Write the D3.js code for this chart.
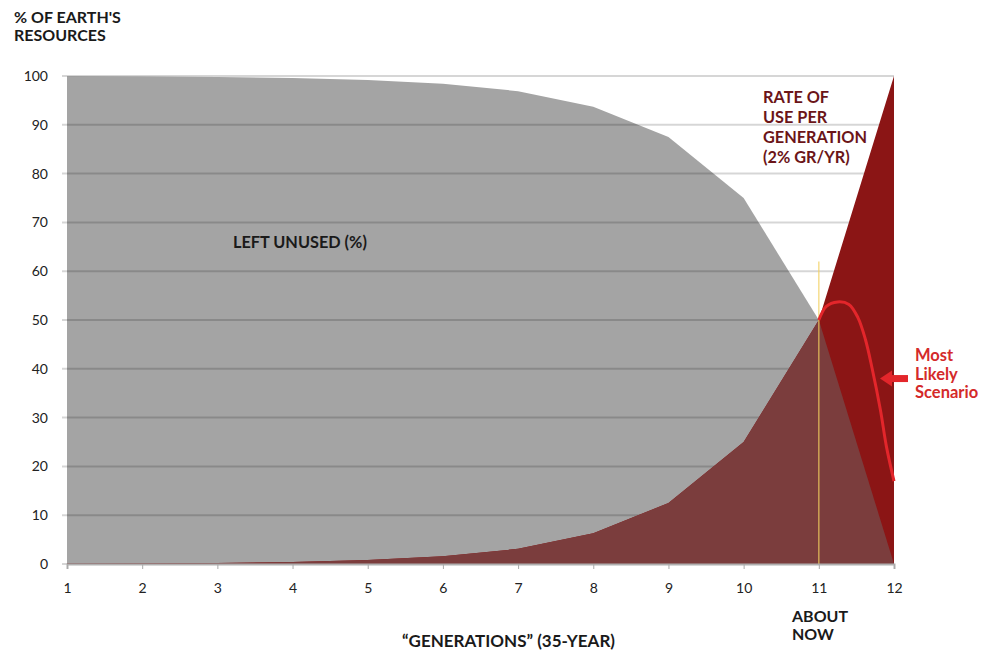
<!DOCTYPE html>
<html>
<head>
<meta charset="utf-8">
<script src="https://cdn.jsdelivr.net/npm/d3@7"></script>
<style>
  body { margin: 0; background: #fff; }
  text { font-family: Lato, "Open Sans", sans-serif; }
</style>
</head>
<body>
<script>
// data
var generations = [1, 2, 3, 4, 5, 6, 7, 8, 9, 10, 11, 12];
var usedPct = [0.05, 0.1, 0.2, 0.4, 0.8, 1.6, 3.1, 6.3, 12.5, 25, 50, 100];
var unusedPct = [99.95, 99.9, 99.8, 99.6, 99.2, 98.4, 96.9, 93.7, 87.5, 75, 50, 0];
// the "most likely" red curve
var likelyGen = [11, 11.1, 11.25, 11.4, 11.52, 11.62, 11.71, 11.82, 11.9, 12];
var likelyPct = [50, 52.8, 53.7, 53.2, 50.5, 46, 40, 31.5, 24, 17];
var yTicks = [0, 10, 20, 30, 40, 50, 60, 70, 80, 90, 100];
var nowGen = 11;
var nowLineTop = 62;

var w = 995;
var h = 654;
// NB: "top" is taken by window.top, so plot edges get their own names
var plotLeft = 67, plotRight = 894, plotTop = 76, plotBottom = 564;

var svg = d3.select("body").append("svg")
    .attr("width", w)
    .attr("height", h);

var x = d3.scaleLinear().domain([1, 12]).range([plotLeft, plotRight]);
var y = d3.scaleLinear().domain([0, 100]).range([plotBottom, plotTop]);

var rows = generations.map(function(g, i) {
    return { g: g, used: usedPct[i], unused: unusedPct[i] };
});

var unusedArea = d3.area()
    .x(function(d) { return x(d.g); })
    .y0(y(0))
    .y1(function(d) { return y(d.unused); });

var usedArea = d3.area()
    .x(function(d) { return x(d.g); })
    .y0(y(0))
    .y1(function(d) { return y(d.used); });

// clip used by unused to get the overlap colour
svg.append("defs").append("clipPath")
    .attr("id", "unusedClip")
    .append("path")
    .attr("d", unusedArea(rows));

// gray "left unused" area
svg.append("path")
    .attr("d", unusedArea(rows))
    .attr("fill", "#a4a4a4");

// gridlines sit over gray, under red
svg.append("g")
    .selectAll("line")
    .data(yTicks)
    .enter()
    .append("line")
    .attr("x1", plotLeft - 5)
    .attr("x2", plotRight)
    .attr("y1", function(d) { return y(d); })
    .attr("y2", function(d) { return y(d); })
    .attr("stroke", "rgba(0,0,0,0.16)")
    .attr("stroke-width", 2);

// red "used" area
svg.append("path")
    .attr("d", usedArea(rows))
    .attr("fill", "#8b1515");

// overlap part (brownish)
svg.append("path")
    .attr("d", usedArea(rows))
    .attr("clip-path", "url(#unusedClip)")
    .attr("fill", "#7b3d3d");

// "about now" line
svg.append("line")
    .attr("x1", x(nowGen))
    .attr("x2", x(nowGen))
    .attr("y1", y(0))
    .attr("y2", y(nowLineTop))
    .attr("stroke", "#f2d060")
    .attr("stroke-opacity", 0.7)
    .attr("stroke-width", 1.5);

// most likely scenario curve
var likelyLine = d3.line()
    .x(function(d, i) { return x(likelyGen[i]); })
    .y(function(d) { return y(d); })
    .curve(d3.curveCatmullRom);

svg.append("path")
    .attr("d", likelyLine(likelyPct))
    .attr("fill", "none")
    .attr("stroke", "#e3262b")
    .attr("stroke-width", 3);

// arrow pointing at the curve
var arrowY = y(38);
svg.append("rect")
    .attr("x", 890)
    .attr("y", arrowY - 3.5)
    .attr("width", 18)
    .attr("height", 7)
    .attr("fill", "#e3262b");
svg.append("path")
    .attr("d", "M880," + arrowY + "L892," + (arrowY - 8) + "L892," + (arrowY + 8) + "Z")
    .attr("fill", "#e3262b");

// axes
var yAxis = svg.append("g")
    .attr("transform", "translate(" + plotLeft + ",0)")
    .call(d3.axisLeft(y).tickValues(yTicks).tickSize(0).tickPadding(19));
yAxis.select(".domain").remove();
yAxis.selectAll("text")
    .attr("font-size", 14)
    .attr("fill", "#222")
    .style("font-family", "Lato, sans-serif");

var xAxis = svg.append("g")
    .attr("transform", "translate(0," + plotBottom + ")")
    .call(d3.axisBottom(x).tickValues(generations).tickFormat(d3.format("d")).tickSize(5).tickPadding(14));
xAxis.select(".domain").attr("stroke", "#b0b0b0").attr("stroke-width", 2);
xAxis.selectAll(".tick line").attr("stroke", "#aaa");
xAxis.selectAll("text")
    .attr("font-size", 14)
    .attr("fill", "#222")
    .style("font-family", "Lato, sans-serif");

// labels
function block(lines, x0, y0, lh, size, color) {
    var t = svg.append("text")
        .attr("x", x0)
        .attr("y", y0)
        .attr("font-size", size)
        .attr("font-weight", "bold")
        .attr("fill", color);
    t.selectAll("tspan")
        .data(lines)
        .enter()
        .append("tspan")
        .attr("x", x0)
        .attr("dy", function(d, i) { return i === 0 ? 0 : lh; })
        .text(function(d) { return d; });
}

block(["% OF EARTH'S", "RESOURCES"], 14, 23, 18, 16, "#1a1a1a");
block(["LEFT UNUSED (%)"], 233, 248, 0, 16.3, "#1a1a1a");
block(["RATE OF", "USE PER", "GENERATION", "(2% GR/YR)"], 763, 103, 20, 16.3, "#6b1518");
block(["Most", "Likely", "Scenario"], 915, 361, 18.5, 16.5, "#d42a2a");
block(["ABOUT", "NOW"], 792, 622, 18, 16, "#1a1a1a");
block(["\u201cGENERATIONS\u201d (35-YEAR)"], 402, 647, 0, 17, "#1a1a1a");
</script>
</body>
</html>
